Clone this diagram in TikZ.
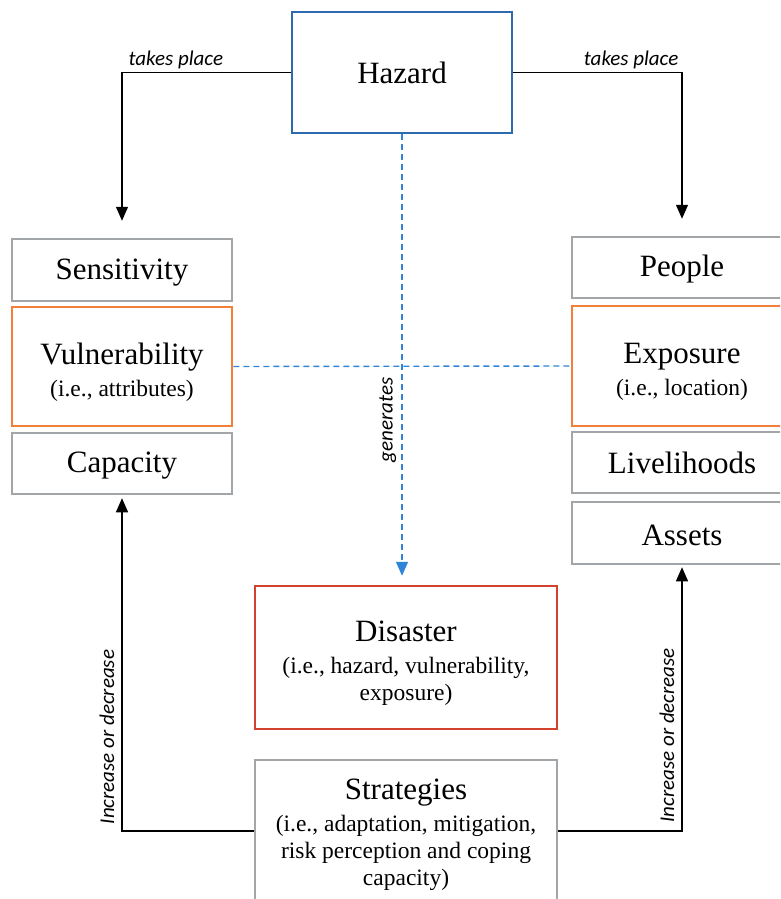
\documentclass[tikz,border=0pt]{standalone}
\usepackage{fontspec}
\setmainfont{Liberation Serif}
\newfontfamily\linkfont{Carlito}
\usetikzlibrary{arrows.meta}

\definecolor{hazardblue}{HTML}{2E6BAE}
\definecolor{dashblue}{HTML}{2F86D8}
\definecolor{boxgrey}{HTML}{A3A6A9}
\definecolor{vulnorange}{HTML}{F28038}
\definecolor{disasterred}{HTML}{D2402E}

\newcommand{\bigtxt}{\fontsize{31}{33}\selectfont}
\newcommand{\topstrut}[1]{\rule{0pt}{#1}}

\begin{document}
\begin{tikzpicture}[x=1pt,y=-1pt,>={Triangle[length=14pt,width=12pt]},
  box/.style={draw=#1,line width=2.5pt,inner sep=0pt,minimum width=220pt,
    align=center,font=\fontsize{23.5}{27}\selectfont},
  linktext/.style={font=\linkfont\itshape\fontsize{21}{23}\selectfont,inner sep=3pt},
  blueline/.style={dashblue,line width=1.4pt,dash pattern=on 6pt off 4pt}]
\useasboundingbox (0,0) rectangle (780,899);
\clip (0,0) rectangle (780,899);
\node (hazard)        at (402,72.5)  [box=hazardblue,minimum height=121] {\bigtxt Hazard};
\node (sensitivity)   at (122,270)   [box=boxgrey,minimum height=62]     {\bigtxt\topstrut{25pt}Sensitivity};
\node (vulnerability) at (122,366.5) [box=vulnorange,minimum height=119] {{\bigtxt\topstrut{32pt}Vulnerability}\\[5pt](i.e., attributes)};
\node (capacity)      at (122,463.5) [box=boxgrey,minimum height=61]     {\bigtxt\topstrut{25pt}Capacity};
\node (people)        at (682,267.5) [box=boxgrey,minimum height=61]     {\bigtxt\topstrut{25pt}People};
\node (exposure)      at (682,366)   [box=vulnorange,minimum height=120] {{\bigtxt\topstrut{32pt}Exposure}\\[5pt](i.e., location)};
\node (livelihoods)   at (682,462.5) [box=boxgrey,minimum height=61]     {\bigtxt Livelihoods};
\node (assets)        at (682,533)   [box=boxgrey,minimum height=62]     {\bigtxt\topstrut{25pt}Assets};
\node (disaster)      at (406,657.5) [box=disasterred,minimum width=302,minimum height=143]
  {{\bigtxt\topstrut{31pt}Disaster}\\[5pt](i.e., hazard, vulnerability,\\exposure)};
\node (strategies)    at (406,831)   [box=boxgrey,minimum width=302,minimum height=142]
  {{\bigtxt\topstrut{28pt}Strategies}\\[5pt](i.e., adaptation, mitigation,\\risk perception and coping\\capacity)};
\draw [->,line width=1.3pt,shorten >=17pt] (hazard.west) -| node [linktext,pos=0.5,anchor=south west,xshift=3pt] {takes place} (sensitivity.north);
\draw [->,line width=1.3pt,shorten >=17pt] (hazard.east) -| node [linktext,pos=0.5,anchor=south east] {takes place} (people.north);
\draw [->,line width=1.3pt,shorten >=3pt] (strategies.west) -| node [linktext,inner ysep=7pt,pos=0.64,rotate=90,anchor=south] {Increase or decrease} (capacity.south);
\draw [->,line width=1.3pt,shorten >=2pt] (strategies.east) -| node [linktext,inner ysep=7pt,pos=0.68,rotate=90,anchor=south] {Increase or decrease} (assets.south);
\draw [blueline,->,shorten >=9pt] (hazard.south) -- node [linktext,inner ysep=5pt,pos=0.634,rotate=90,anchor=south,text=black] {generates} (hazard.south |- disaster.north);
\draw [blueline] (vulnerability.east) -- (exposure.west);
\end{tikzpicture}
\end{document}
